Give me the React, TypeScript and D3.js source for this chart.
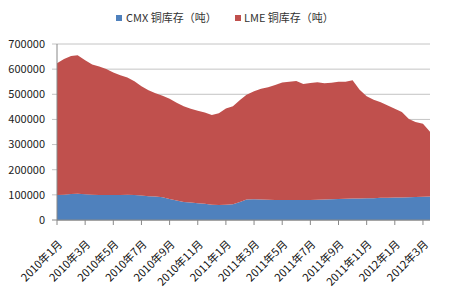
import React from "react";
import * as d3 from "d3";

// Semi-monthly observation dates (month index 0 = Jan 2010)
const dates: string[] = [
  "2010-01-01","2010-01-16","2010-02-01","2010-02-15","2010-03-01","2010-03-16",
  "2010-04-01","2010-04-16","2010-05-01","2010-05-16","2010-06-01","2010-06-16",
  "2010-07-01","2010-07-16","2010-08-01","2010-08-16","2010-09-01","2010-09-16",
  "2010-10-01","2010-10-16","2010-11-01","2010-11-16","2010-12-01","2010-12-16",
  "2011-01-01","2011-01-16","2011-02-01","2011-02-15","2011-03-01","2011-03-16",
  "2011-04-01","2011-04-16","2011-05-01","2011-05-16","2011-06-01","2011-06-16",
  "2011-07-01","2011-07-16","2011-08-01","2011-08-16","2011-09-01","2011-09-16",
  "2011-10-01","2011-10-16","2011-11-01","2011-11-16","2011-12-01","2011-12-16",
  "2012-01-01","2012-01-16","2012-02-01","2012-02-15","2012-03-01","2012-03-16",
];

// CMX copper inventory (tonnes)
const cmxValues: number[] = [
  99000,100000,103000,104000,102000,100000,99000,99000,99000,99000,100000,99000,
  97000,94000,93000,90000,84000,78000,72000,70000,67000,65000,61000,60000,
  61000,63000,72000,82000,83000,82000,81000,80000,80000,80000,80000,80000,
  80000,81000,82000,83000,84000,85000,86000,86000,87000,87000,88000,88000,
  89000,89000,90000,91000,92000,93000,
];

// LME copper inventory (tonnes)
const lmeValues: number[] = [
  524000,540000,549000,551000,533000,518000,512000,502000,488000,477000,467000,453000,
  435000,422000,411000,404000,398000,388000,380000,372000,368000,363000,357000,365000,
  382000,389000,405000,416000,429000,440000,447000,457000,467000,470000,473000,461000,
  465000,467000,462000,463000,466000,465000,470000,432000,405000,391000,380000,367000,
  353000,341000,312000,299000,291000,258000,
];

const tickLabels: string[] = [
  "2010年1月","2010年3月","2010年5月","2010年7月","2010年9月","2010年11月",
  "2011年1月","2011年3月","2011年5月","2011年7月","2011年9月","2011年11月",
  "2012年1月","2012年3月",
];
const tickMonths: number[] = [0,2,4,6,8,10,12,14,16,18,20,22,24,26];
const yTicks: number[] = [0,100000,200000,300000,400000,500000,600000,700000];

const seriesNames = ["CMX 铜库存（吨）", "LME 铜库存（吨）"];
const colors = ["#4F81BD", "#C0504D"];

function monthIndex(s: string): number {
  const [y, m, d] = s.split("-").map(Number);
  return (y - 2010) * 12 + (m - 1) + (d - 1) / 30;
}

export default function App() {
  const W = 450, H = 300;
  const left = 57, right = 430, top = 44, bottom = 220;
  const font = "'Noto Sans CJK SC', 'Liberation Sans', sans-serif";

  const rows = dates.map((d, i) => ({ m: monthIndex(d), cmx: cmxValues[i], lme: lmeValues[i] }));
  const x = d3.scaleLinear().domain([0, 26.5]).range([left, right]);
  const y = d3.scaleLinear().domain([0, 700000]).range([bottom, top]);
  const stacked = d3.stack<any>().keys(["cmx", "lme"])(rows);
  const area = d3.area<any>()
    .x((d: any) => x(d.data.m))
    .y0((d: any) => y(d[0]))
    .y1((d: any) => y(d[1]));

  return (
    <svg width={W} height={H} style={{ position: "absolute", left: 0, top: 0, background: "#fff" }}
      fontFamily={font}>
      <rect x={0} y={0} width={W} height={H} fill="#fff" />
      {/* gridlines */}
      {yTicks.map((t) => (
        <line key={t} x1={left - 5} x2={right} y1={y(t)} y2={y(t)}
          stroke={t === 0 ? "#888" : "#c4c4c4"} strokeWidth={1} />
      ))}
      {/* areas */}
      {stacked.map((s, i) => (
        <path key={i} d={area(s) as string} fill={colors[i]} />
      ))}
      {/* axes */}
      <line x1={left} x2={left} y1={top} y2={bottom} stroke="#888" />
      <line x1={left} x2={right} y1={bottom} y2={bottom} stroke="#888" />
      {tickMonths.map((m) => (
        <line key={m} x1={x(m)} x2={x(m)} y1={bottom} y2={bottom + 5} stroke="#888" />
      ))}
      {yTicks.map((t) => (
        <text key={t} x={45} y={y(t)} dy="0.35em" textAnchor="end" fontSize={11} fill="#222">
          {t}
        </text>
      ))}
      {tickMonths.map((m, i) => (
        <text key={m} transform={`translate(${x(m) + 6},${245}) rotate(-45)`} textAnchor="end"
          fontSize={11} fill="#111">
          {tickLabels[i]}
        </text>
      ))}
      {/* legend */}
      <rect x={116} y={15} width={6} height={6} fill={colors[0]} />
      <text x={126} y={18} dy="0.35em" fontSize={11} fill="#333">{seriesNames[0]}</text>
      <rect x={235} y={15} width={6} height={6} fill={colors[1]} />
      <text x={244} y={18} dy="0.35em" fontSize={11} fill="#333">{seriesNames[1]}</text>
    </svg>
  );
}
